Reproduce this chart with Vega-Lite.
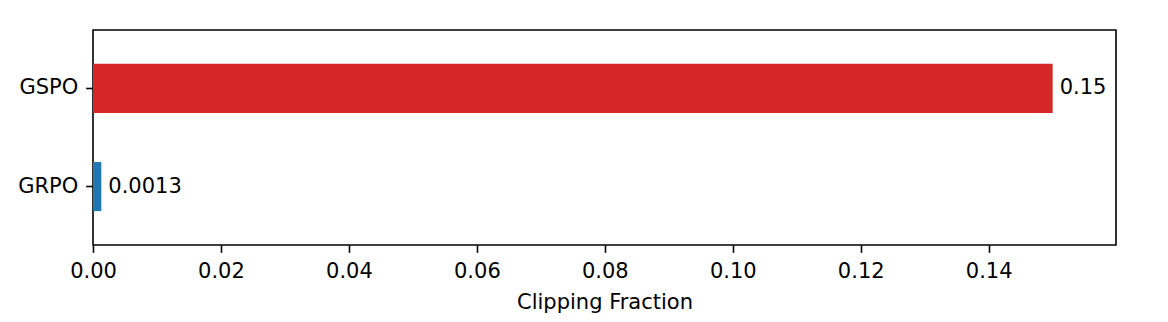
{
  "$schema": "https://vega.github.io/schema/vega-lite/v6.json",
  "width": 1023,
  "height": 215,
  "autosize": {"type": "none"},
  "padding": {"left": 93, "top": 30, "right": 52, "bottom": 77},
  "background": "white",
  "config": {
    "font": "DejaVu Sans",
    "view": {"stroke": "black", "strokeWidth": 1.6},
    "axis": {
      "domain": false,
      "grid": false,
      "tickColor": "black",
      "tickSize": 7.3,
      "tickWidth": 1.6,
      "labelColor": "black",
      "labelFont": "DejaVu Sans",
      "labelFontSize": 21,
      "titleFont": "DejaVu Sans",
      "titleFontSize": 21,
      "titleFontWeight": "normal",
      "titleColor": "black"
    }
  },
  "data": {
    "values": [
      {"method": "GSPO", "fraction": 0.15},
      {"method": "GRPO", "fraction": 0.0013}
    ]
  },
  "encoding": {
    "y": {
      "field": "method",
      "type": "nominal",
      "sort": ["GSPO", "GRPO"],
      "scale": {"paddingInner": 0.5, "paddingOuter": 0.345},
      "axis": {"title": null, "labelPadding": 8}
    },
    "x": {
      "field": "fraction",
      "type": "quantitative",
      "scale": {"domain": [0, 0.1599], "nice": false, "zero": true},
      "axis": {
        "title": "Clipping Fraction",
        "values": [0, 0.02, 0.04, 0.06, 0.08, 0.1, 0.12, 0.14],
        "format": ".2f",
        "labelPadding": 8,
        "titlePadding": 10,
        "labelFlush": false
      }
    }
  },
  "layer": [
    {
      "mark": {"type": "bar"},
      "encoding": {
        "color": {
          "field": "method",
          "type": "nominal",
          "scale": {"domain": ["GSPO", "GRPO"], "range": ["#d62728", "#1f77b4"]},
          "legend": null
        }
      }
    },
    {
      "mark": {"type": "text", "align": "left", "baseline": "middle", "dx": 7, "fontSize": 21, "font": "DejaVu Sans", "color": "black"},
      "encoding": {
        "text": {"field": "fraction", "type": "quantitative", "format": ".2g"}
      }
    }
  ]
}
